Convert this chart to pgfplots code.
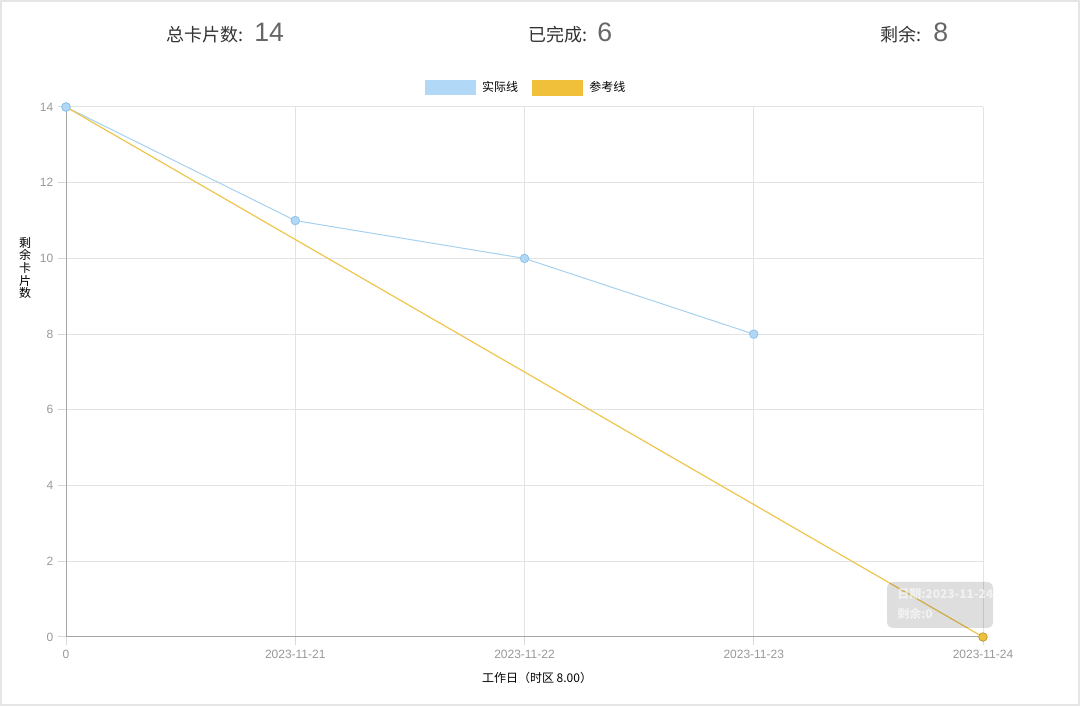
\documentclass[border=0pt]{standalone}
\usepackage{fontspec}
\setmainfont{Liberation Sans}
\newfontfamily\cjk{Noto Sans CJK SC}
\usepackage{pgfplots}
\pgfplotsset{compat=1.18}
\definecolor{actual}{HTML}{A6D1F0}
\definecolor{actfill}{HTML}{B1D8F6}
\definecolor{actdraw}{HTML}{8EC3EA}
\definecolor{refc}{HTML}{EEC64E}
\definecolor{reffill}{HTML}{F0C03A}
\definecolor{tickc}{HTML}{999999}
\begin{document}
\begin{tikzpicture}
\begin{scope}[x=0.75pt,y=0.75pt]
\useasboundingbox (0,0) rectangle (1080,706);
\fill[white] (0,0) rectangle (1080,706);
\draw[black!10, line width=1.5pt] (1,1) rectangle (1079,705);
\end{scope}
\begin{axis}[
  at={(49.5pt,51.75pt)}, anchor=south west, scale only axis,
  width=687.75pt, height=397.5pt,
  xmin=0, xmax=4, ymin=0, ymax=14,
  xtick={0,1,2,3,4},
  xticklabels={0,2023-11-21,2023-11-22,2023-11-23,2023-11-24},
  ytick={0,2,4,6,8,10,12,14},
  grid=major, grid style={draw=black!11, line width=0.75pt},
  axis x line=bottom, axis y line=left,
  axis line style={draw=black!35, line width=0.75pt, -},
  tick align=outside, major tick length=6pt,
  major tick style={draw=black!15, line width=0.75pt},
  tick label style={font=\fontsize{9}{9}\selectfont, text=tickc},
  /pgf/number format/assume math mode=true,
  clip=false,
  legend style={font=\cjk\fontsize{9}{9}\selectfont, draw=none, fill=none,
    at={(0.502,1.036)}, anchor=center, legend columns=2,
    /tikz/every odd column/.append style={column sep=3pt},
    /tikz/every even column/.append style={column sep=8pt}},
]
\addplot[color=actual, line width=0.75pt, mark=*, mark size=3.2pt,
  mark options={fill=actfill, draw=actdraw, line width=0.6pt},
  legend image code/.code={\fill[actfill] (0pt,-5.25pt) rectangle (37.5pt,5.25pt);}]
  coordinates {(0,14) (1,11) (2,10) (3,8)};
\addlegendentry{实际线}
\addplot[color=refc, line width=0.9pt, mark=none,
  legend image code/.code={\fill[reffill] (0pt,-5.25pt) rectangle (37.5pt,5.25pt);}]
  coordinates {(0,14) (1,10.5) (2,7) (3,3.5) (4,0)};
\addlegendentry{参考线}
\addplot[forget plot, only marks, mark=*, mark size=3.2pt,
  mark options={fill=reffill, draw=refc!80!black, line width=0.6pt}]
  coordinates {(4,0)};
\addplot[forget plot, only marks, mark=*, mark size=3.2pt,
  mark options={fill=actfill, draw=actdraw, line width=0.6pt}]
  coordinates {(0,14)};
\end{axis}
\begin{scope}[x=0.75pt,y=0.75pt]
% header
\node[anchor=base west, inner sep=0, text=black!80] at (166,664) {\cjk\fontsize{13.5}{13.5}\selectfont 总卡片数:};
\node[anchor=base west, inner sep=0, text=black!60] at (254,664) {\fontsize{20}{20}\selectfont 14};
\node[anchor=base west, inner sep=0, text=black!80] at (528,664) {\cjk\fontsize{13.5}{13.5}\selectfont 已完成:};
\node[anchor=base west, inner sep=0, text=black!60] at (597,664) {\fontsize{20}{20}\selectfont 6};
\node[anchor=base west, inner sep=0, text=black!80] at (880,664) {\cjk\fontsize{13.5}{13.5}\selectfont 剩余:};
\node[anchor=base west, inner sep=0, text=black!60] at (933,664) {\fontsize{20}{20}\selectfont 8};
% axis titles
\node[align=center, inner sep=0, font=\cjk\fontsize{9}{9.45}\selectfont] at (25,438) {剩\\余\\卡\\片\\数};
\node[inner sep=0, font=\cjk\fontsize{9}{9}\selectfont] at (537,28) {工作日（时区 8.00）};
% tooltip
\fill[black, opacity=0.13, rounded corners=4.5] (887,124) rectangle (993,78);
\node[anchor=west, inner sep=0, text=white, opacity=0.6, font=\cjk\bfseries\fontsize{9}{9}\selectfont] at (897,112) {日期:2023-11-24};
\node[anchor=west, inner sep=0, text=white, opacity=0.6, font=\cjk\bfseries\fontsize{9}{9}\selectfont] at (897,92) {剩余:0};
\end{scope}
\end{tikzpicture}
\end{document}
